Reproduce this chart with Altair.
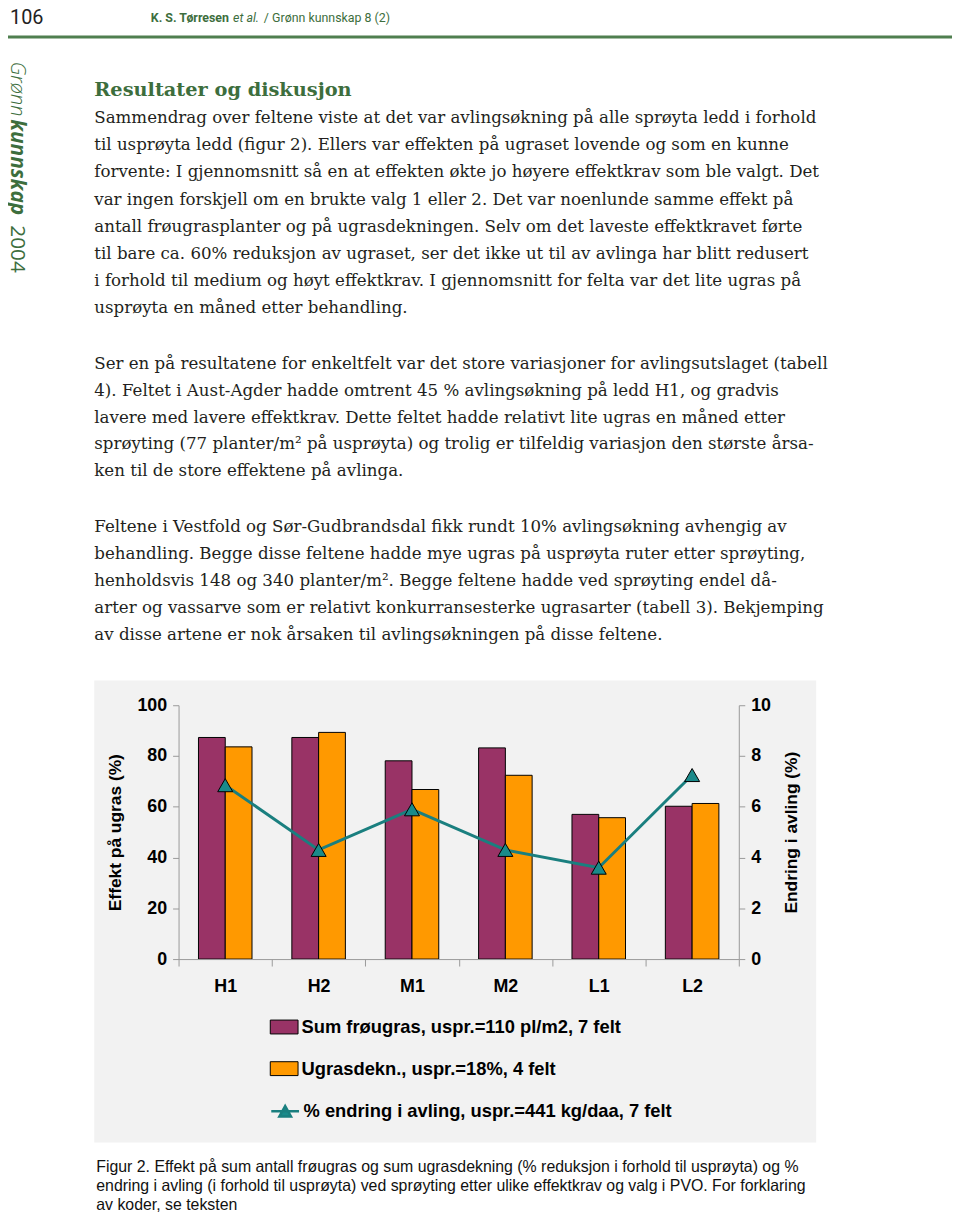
import altair as alt
import pandas as pd

# ---------------- data ----------------
cats = ["H1", "H2", "M1", "M2", "L1", "L2"]
series_names = ["Sum frøugras, uspr.=110 pl/m2, 7 felt", "Ugrasdekn., uspr.=18%, 4 felt"]
froeugras = [87.3, 87.3, 78.1, 83.2, 57.0, 60.2]
ugrasdekn = [83.6, 89.3, 66.8, 72.4, 55.7, 61.3]
line_name = "% endring i avling, uspr.=441 kg/daa, 7 felt"
avling = [6.85, 4.3, 5.9, 4.3, 3.6, 7.25]

header_page = "106"
header_bold = "K. S. Tørresen"
header_ital = "et al."
header_rest = "/ Grønn kunnskap 8 (2)"
side_a, side_b, side_c = "Grønn", "kunnskap", "2004"
heading = "Resultater og diskusjon"
para1 = [
    "Sammendrag over feltene viste at det var avlingsøkning på alle sprøyta ledd i forhold",
    "til usprøyta ledd (figur 2). Ellers var effekten på ugraset lovende og som en kunne",
    "forvente: I gjennomsnitt så en at effekten økte jo høyere effektkrav som ble valgt. Det",
    "var ingen forskjell om en brukte valg 1 eller 2. Det var noenlunde samme effekt på",
    "antall frøugrasplanter og på ugrasdekningen. Selv om det laveste effektkravet førte",
    "til bare ca. 60% reduksjon av ugraset, ser det ikke ut til av avlinga har blitt redusert",
    "i forhold til medium og høyt effektkrav. I gjennomsnitt for felta var det lite ugras på",
    "usprøyta en måned etter behandling.",
]
para2 = [
    "Ser en på resultatene for enkeltfelt var det store variasjoner for avlingsutslaget (tabell",
    "4). Feltet i Aust-Agder hadde omtrent 45 % avlingsøkning på ledd H1, og gradvis",
    "lavere med lavere effektkrav. Dette feltet hadde relativt lite ugras en måned etter",
    "sprøyting (77 planter/m² på usprøyta) og trolig er tilfeldig variasjon den største årsa-",
    "ken til de store effektene på avlinga.",
]
para3 = [
    "Feltene i Vestfold og Sør-Gudbrandsdal fikk rundt 10% avlingsøkning avhengig av",
    "behandling. Begge disse feltene hadde mye ugras på usprøyta ruter etter sprøyting,",
    "henholdsvis 148 og 340 planter/m². Begge feltene hadde ved sprøyting endel då-",
    "arter og vassarve som er relativt konkurransesterke ugrasarter (tabell 3). Bekjemping",
    "av disse artene er nok årsaken til avlingsøkningen på disse feltene.",
]
caption = [
    "Figur 2. Effekt på sum antall frøugras og sum ugrasdekning (% reduksjon i forhold til usprøyta) og %",
    "endring i avling (i forhold til usprøyta) ved sprøyting etter ulike effektkrav og valg i PVO. For forklaring",
    "av koder, se teksten",
]

# ---------------- tables ----------------
df_bars = pd.DataFrame(
    [{"cat": c, "series": series_names[0], "value": v} for c, v in zip(cats, froeugras)]
    + [{"cat": c, "series": series_names[1], "value": v} for c, v in zip(cats, ugrasdekn)]
)
df_line = pd.DataFrame({"cat": cats, "avling": avling, "lname": [line_name] * len(cats)})
one = pd.DataFrame({"k": [0]})

W, H = 952, 1213
SANS = "Liberation Sans, Arial, sans-serif"
SERIF = "DejaVu Serif, serif"
HEAD = "Roboto, Liberation Sans, sans-serif"
SIDE = "Open Sans, sans-serif"
GREEN = "#3d6e3d"
AXC = "#9a9a9a"

x_scale = alt.Scale(domain=cats, range=[172, 737], paddingInner=0, paddingOuter=0)
x_axis = alt.Axis(
    title=None, orient="bottom", offset=-(H - 954), tickBand="extent", labelAngle=0,
    labelFont=SANS, labelFontSize=18, labelFontWeight="bold", labelColor="black",
    labelPadding=12, domainColor=AXC, tickColor=AXC, tickSize=7, grid=False, zindex=2,
)
x_enc = alt.X("cat:N", sort=cats, scale=x_scale, axis=x_axis)

bg = alt.Chart(one).mark_rect(color="#f2f2f2").encode(
    x=alt.value(87), x2=alt.value(815), y=alt.value(673), y2=alt.value(1139)
)

bars = alt.Chart(df_bars).mark_bar(stroke="black", strokeWidth=1, opacity=1).encode(
    x=x_enc,
    xOffset=alt.XOffset("series:N", sort=series_names,
                        scale=alt.Scale(domain=series_names, paddingInner=0, paddingOuter=0.744)),
    y=alt.Y("value:Q", scale=alt.Scale(domain=[0, 100], range=[954, 698], nice=False),
            axis=alt.Axis(orient="left", offset=-172, values=[0, 20, 40, 60, 80, 100],
                          format="d",
                          title="Effekt på ugras (%)", titleFont=SANS, titleFontSize=17.5,
                          titleFontWeight="bold", titleColor="black", titlePadding=13,
                          labelFont=SANS, labelFontSize=18, labelFontWeight="bold",
                          labelColor="black", labelPadding=6, tickSize=6,
                          domainColor=AXC, tickColor=AXC, grid=False, zindex=2)),
    color=alt.Color("series:N", sort=series_names,
                    scale=alt.Scale(domain=series_names, range=["#993366", "#ff9900"]),
                    legend=alt.Legend(orient="none", legendX=264, legendY=1008, title=None,
                                      direction="vertical",
                                      symbolType="M-1,-0.5H1V0.5H-1Z", symbolSize=784,
                                      symbolStrokeColor="black", symbolStrokeWidth=1,
                                      symbolOpacity=1, labelFont=SANS, labelFontSize=18.5,
                                      labelFontWeight="bold", labelColor="black",
                                      labelOffset=3, labelLimit=0, rowPadding=18)),
)

y_right = alt.Scale(domain=[0, 10], range=[954, 698], nice=False)
line = alt.Chart(df_line).mark_line(strokeWidth=3).encode(
    x=x_enc,
    y=alt.Y("avling:Q", scale=y_right,
            axis=alt.Axis(orient="right", offset=-(W - 737), values=[0, 2, 4, 6, 8, 10],
                          format="d",
                          title="Endring i avling (%)", titleAngle=270, titleFont=SANS,
                          titleFontSize=17.5, titleFontWeight="bold", titleColor="black",
                          titlePadding=30, labelFont=SANS, labelFontSize=18,
                          labelFontWeight="bold", labelColor="black", labelPadding=6,
                          tickSize=6, domainColor=AXC, tickColor=AXC, grid=False, zindex=2)),
    stroke=alt.Stroke("lname:N", scale=alt.Scale(domain=[line_name], range=["#1a7f7f"]),
                      legend=alt.Legend(orient="none", legendX=264, legendY=1092, title=None,
                                        symbolType="M-1,0H1M-0.42,0.38L0,-0.38L0.42,0.38Z",
                                        symbolSize=784, symbolStrokeWidth=2.5,
                                        symbolFillColor="#1a8a8a", labelFont=SANS,
                                        labelFontSize=18.5, labelFontWeight="bold",
                                        labelColor="black", labelOffset=3, labelLimit=0)),
)
points = alt.Chart(df_line).mark_point(shape="triangle-up", filled=True, size=230,
                                       fill="#1a8a8a", stroke="black", strokeWidth=1,
                                       opacity=1).encode(
    x=x_enc,
    y=alt.Y("avling:Q", scale=y_right),
)


def txt(text, x, y, **kw):
    props = dict(align="left", baseline="alphabetic")
    props.update(kw)
    return alt.Chart(one).mark_text(text=text, **props).encode(x=alt.value(x), y=alt.value(y))


rule = alt.Chart(one).mark_rule(color="#4f7f4f", strokeWidth=3).encode(
    x=alt.value(0), x2=alt.value(W), y=alt.value(24)
)

texts = [
    txt(header_page, 2, 11, font=HEAD, fontSize=20, color="#222222"),
    txt(header_bold, 144, 9, font=HEAD, fontSize=12.5, fontWeight="bold", color=GREEN),
    txt(header_ital, 227, 9, font=HEAD, fontSize=12.5, fontStyle="italic", color=GREEN),
    txt(header_rest, 258, 9, font=HEAD, fontSize=12.5, color=GREEN),
    txt(side_a, 9, 49, font=SIDE, fontSize=20, fontStyle="italic",
        fontWeight=300, color=GREEN, angle=90, baseline="middle"),
    txt(side_b, 9, 107, font=SIDE, fontSize=21, fontStyle="italic",
        fontWeight="bold", color=GREEN, angle=90, baseline="middle"),
    txt(side_c, 9, 214, font=SIDE, fontSize=21, color=GREEN,
        angle=90, baseline="middle"),
    txt(heading, 87, 84, font=SERIF, fontSize=19.5, fontWeight="bold", color=GREEN),
    txt(para1, 87, 111, font=SERIF, fontSize=16.8, lineHeight=27.4, color="#231f20"),
    txt(para2, 87, 359, font=SERIF, fontSize=16.8, lineHeight=27, color="#231f20"),
    txt(para3, 87, 523, font=SERIF, fontSize=16.8, lineHeight=27.25, color="#231f20"),
    txt(caption, 89, 1169, font=SANS, fontSize=16, lineHeight=18.8, color="#111111"),
]

chart = alt.layer(
    bg, rule, bars, alt.layer(line, points), *texts
).resolve_scale(y="independent").properties(
    width=W, height=H, padding=0, autosize=alt.AutoSizeParams(type="none"),
    background="white",
).configure_view(stroke=None)

chart.save("out.html", embed_options={"renderer": "svg", "actions": False})
